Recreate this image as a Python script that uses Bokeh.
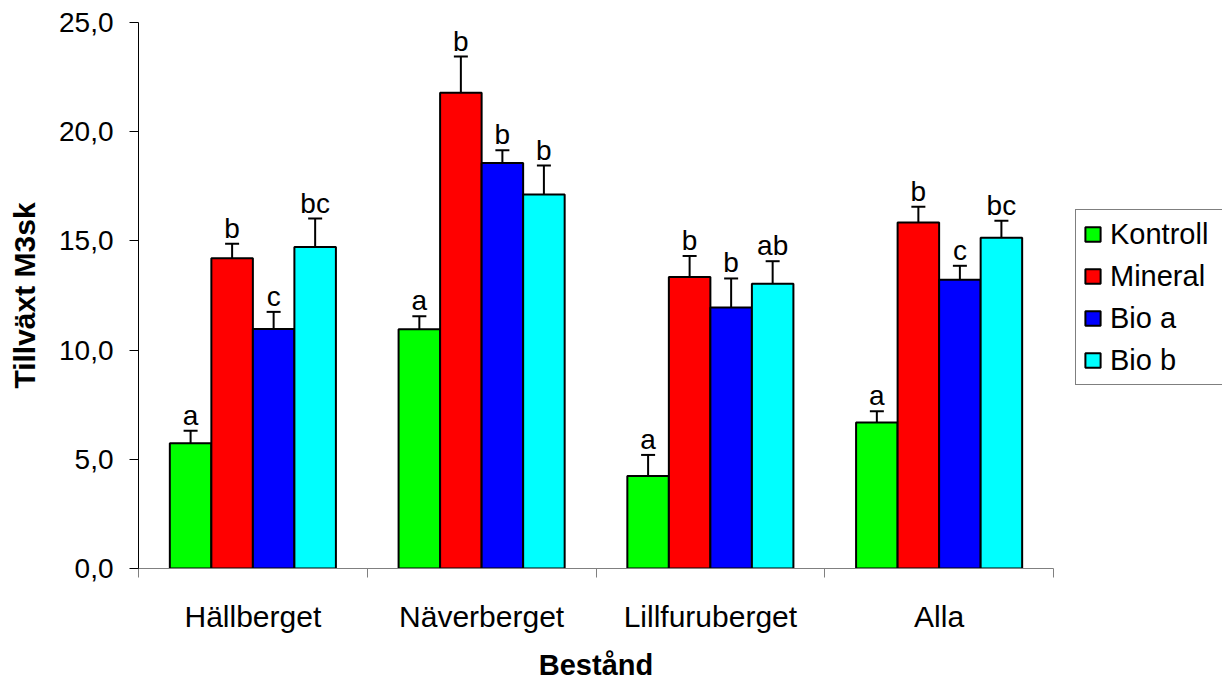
from bokeh.plotting import figure
from bokeh.layouts import row
from bokeh.models import (ColumnDataSource, Range1d, FixedTicker, Legend, LegendItem,
                          Whisker, TeeHead)
from bokeh.core.properties import value
from bokeh.embed import file_html
from bokeh.resources import INLINE

# ---------------- data ----------------
categories = ["Hällberget", "Näverberget", "Lillfuruberget", "Alla"]
series = ["Kontroll", "Mineral", "Bio a", "Bio b"]
colors = ["#00FF00", "#FF0000", "#0000FF", "#00FFFF"]

kontroll = [5.73, 10.95, 4.23, 6.68]
mineral = [14.20, 21.78, 13.35, 15.84]
bio_a = [10.97, 18.57, 11.95, 13.22]
bio_b = [14.72, 17.13, 13.04, 15.14]

kontroll_err = [0.58, 0.60, 0.97, 0.52]
mineral_err = [0.67, 1.66, 0.96, 0.72]
bio_a_err = [0.78, 0.58, 1.33, 0.64]
bio_b_err = [1.30, 1.32, 1.03, 0.78]

kontroll_sig = ["a", "a", "a", "a"]
mineral_sig = ["b", "b", "b", "b"]
bio_a_sig = ["c", "b", "b", "c"]
bio_b_sig = ["bc", "b", "ab", "bc"]

y_ticks = [0, 5, 10, 15, 20, 25]
y_tick_labels = ["0,0", "5,0", "10,0", "15,0", "20,0", "25,0"]

values = [kontroll, mineral, bio_a, bio_b]
errors = [kontroll_err, mineral_err, bio_a_err, bio_b_err]
sigs = [kontroll_sig, mineral_sig, bio_a_sig, bio_b_sig]

FONT = "Liberation Sans"
H = 683

p = figure(width=1060, height=H, output_backend="svg", toolbar_location=None,
           x_range=Range1d(0, len(categories)), y_range=Range1d(0, 25),
           min_border_left=138, min_border_right=7, min_border_top=22, min_border_bottom=106,
           outline_line_color=None, background_fill_color="white", border_fill_color="white")
p.grid.visible = False

bar_w = 0.1815
for i, name in enumerate(series):
    xs = [j + 0.5 + (i - 1.5) * bar_w for j in range(len(categories))]
    up = [v + e for v, e in zip(values[i], errors[i])]
    src = ColumnDataSource(dict(x=xs, top=values[i], up=up, sig=sigs[i]))
    p.vbar(x="x", top="top", width=bar_w, bottom=0, source=src,
           fill_color=colors[i], line_color="black", line_width=2)
    w = Whisker(base="x", upper="up", lower="top", source=src, dimension="height",
                line_color="black", line_width=2,
                upper_head=TeeHead(size=14, line_color="black", line_width=2),
                lower_head=None)
    p.add_layout(w)
    p.text(x="x", y="up", text="sig", source=src, text_align="center",
           text_baseline="bottom",
           text_font=value(FONT), text_font_size="28px", text_color="black")

# y axis
ya = p.yaxis[0]
ya.ticker = FixedTicker(ticks=y_ticks)
ya.major_label_overrides = {t: l for t, l in zip(y_ticks, y_tick_labels)}
ya.major_tick_out = 9
ya.major_tick_in = 0
ya.minor_tick_out = 0
ya.minor_tick_in = 0
ya.axis_line_color = "black"
ya.major_tick_line_color = "black"
ya.major_label_text_font = FONT
ya.major_label_text_font_size = "28px"
ya.major_label_text_color = "black"
ya.major_label_standoff = 16
ya.axis_label = "Tillväxt M3sk"
ya.axis_label_text_font = FONT
ya.axis_label_text_font_size = "30px"
ya.axis_label_text_font_style = "bold"
ya.axis_label_text_color = "black"
ya.axis_label_standoff = 15

# x axis (numeric, labels at centers, boundary ticks as minor ticks)
xa = p.xaxis[0]
centers = [j + 0.5 for j in range(len(categories))]
bounds = list(range(len(categories) + 1))
xa.ticker = FixedTicker(ticks=centers, minor_ticks=bounds)
xa.major_label_overrides = {c: n for c, n in zip(centers, categories)}
xa.major_tick_out = 0
xa.major_tick_in = 0
xa.minor_tick_out = 9
xa.minor_tick_in = 0
xa.axis_line_color = "#808080"
xa.minor_tick_line_color = "#808080"
xa.major_label_text_font = FONT
xa.major_label_text_font_size = "30px"
xa.major_label_text_color = "black"
xa.major_label_standoff = 22
xa.axis_label = "Bestånd"
xa.axis_label_text_font = FONT
xa.axis_label_text_font_size = "29px"
xa.axis_label_text_font_style = "bold"
xa.axis_label_text_color = "black"
xa.axis_label_standoff = 13

# legend in a side figure (swatches from hidden copies of the series)
pl = figure(width=162, height=H, output_backend="svg", toolbar_location=None,
            x_range=Range1d(0, 4), y_range=Range1d(0, 25),
            min_border_left=0, min_border_right=0, min_border_top=0, min_border_bottom=0,
            outline_line_color=None, background_fill_color="white", border_fill_color="white")
pl.axis.visible = False
pl.grid.visible = False
items = []
for i, name in enumerate(series):
    src = ColumnDataSource(dict(x=list(range(len(categories))), top=values[i]))
    r = pl.vbar(x="x", top="top", width=0.1, source=src,
                fill_color=colors[i], line_color="black", line_width=2)
    r.visible = False
    items.append(LegendItem(label=name, renderers=[r]))
legend = Legend(items=items, location=(15, H - 385 - 115), orientation="vertical",
                border_line_color="black", border_line_width=1,
                background_fill_color="white", background_fill_alpha=1,
                inactive_fill_alpha=0,
                label_text_font=FONT, label_text_font_size="29px", label_text_color="black",
                glyph_width=19, glyph_height=18, label_height=34, spacing=8,
                padding=7, margin=0, label_standoff=8, label_width=105)
pl.add_layout(legend, "center")

layout = row(p, pl, spacing=0)
open("out.html", "w").write(file_html(layout, INLINE))
